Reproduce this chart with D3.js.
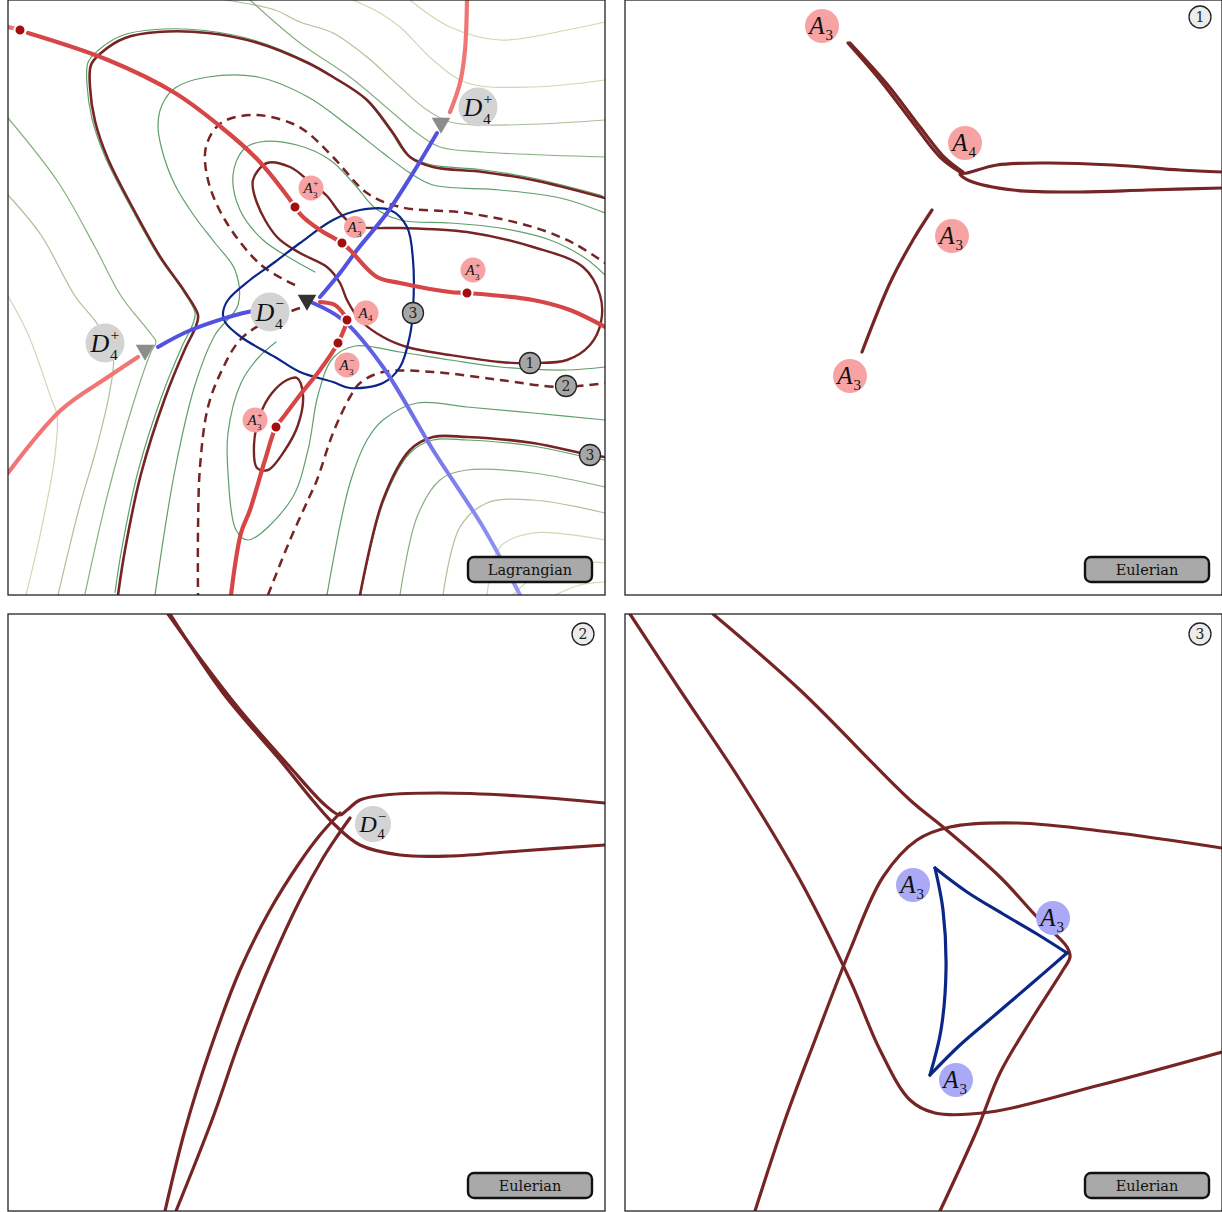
<!DOCTYPE html>
<html>
<head>
<meta charset="utf-8">
<script src="https://cdn.jsdelivr.net/npm/d3@7"></script>
<style>
  body { margin: 0; background: #fff; }
  svg { display: block; }
</style>
</head>
<body>
<svg id="fig" width="1222" height="1212"></svg>
<script>
// ---------- panel 1 (Lagrangian) : curves in panel units (0..5.97) ----------
const outerCaustic = [[1.10,5.95],[1.17,5.50],[1.33,4.74],[1.57,3.98],[1.77,3.49],[1.88,3.26],[1.90,3.15],[1.77,2.92],[1.53,2.58],[1.27,2.12],[1.00,1.59],[0.87,1.21],[0.82,0.87],[0.83,0.65],[0.93,0.53],[1.17,0.38],[1.50,0.32],[2.00,0.33],[2.50,0.43],[3.00,0.63],[3.25,0.77],[3.59,1.00],[3.85,1.33],[4.02,1.57],[4.25,1.67],[4.75,1.72],[5.25,1.80],[5.97,1.98]];
const innerCaustic = [[2.59,1.63],[2.45,1.80],[2.49,2.03],[2.69,2.37],[2.92,2.53],[3.19,2.67],[3.32,2.83],[3.39,3.00],[3.52,3.20],[3.75,3.37],[3.99,3.47],[4.42,3.55],[4.92,3.62],[5.25,3.63],[5.59,3.60],[5.82,3.45],[5.93,3.22],[5.92,2.95],[5.75,2.67],[5.25,2.47],[4.59,2.32],[3.92,2.28],[3.65,2.28],[3.47,2.26],[3.32,2.13],[3.19,1.96],[3.02,1.82],[2.82,1.67]];
const smallCaustic = [[2.89,3.78],[2.95,3.95],[2.90,4.25],[2.77,4.50],[2.60,4.70],[2.49,4.68],[2.46,4.45],[2.52,4.15],[2.64,3.93],[2.79,3.80]];
const lowerCaustic = [[3.52,5.95],[3.75,5.00],[4.02,4.50],[4.25,4.37],[4.59,4.37],[5.25,4.43],[5.82,4.55],[5.97,4.57]];
const dashUpper = [[2.87,2.85],[2.53,2.65],[2.17,2.20],[2.00,1.80],[1.98,1.47],[2.13,1.23],[2.47,1.15],[2.83,1.23],[3.00,1.33],[3.25,1.57],[3.59,1.93],[3.92,2.07],[4.59,2.13],[5.25,2.27],[5.65,2.43],[5.97,2.63]];
const dashLeft = [[2.92,3.08],[2.57,3.22],[2.32,3.40],[2.14,3.70],[2.00,4.07],[1.92,4.67],[1.90,5.30],[1.90,5.95]];
const dashRight = [[2.60,5.95],[2.82,5.40],[3.00,5.00],[3.09,4.80],[3.25,4.33],[3.42,3.97],[3.52,3.83],[3.75,3.72],[4.25,3.72],[4.92,3.80],[5.52,3.87],[5.97,3.83]];

const redUpper = [[0.20,0.33],[1.00,0.60],[1.67,0.93],[2.13,1.27],[2.50,1.60],[2.80,1.97],[2.87,2.07],[2.94,2.16],[3.12,2.30],[3.34,2.43],[3.42,2.50],[3.69,2.77],[3.92,2.83],[4.42,2.92],[4.59,2.93],[5.25,3.00],[5.62,3.10],[5.97,3.27]];
const redLower = [[3.12,3.02],[3.27,3.05],[3.37,3.16],[3.39,3.20],[3.35,3.32],[3.30,3.43],[3.12,3.70],[2.92,3.95],[2.77,4.15],[2.68,4.27],[2.57,4.60],[2.42,5.10],[2.33,5.33],[2.23,5.95]];
const redFaintTop = [[4.42,1.12],[4.52,0.83],[4.57,0.50],[4.59,0.00]];
const redFaintLeft = [[1.30,3.57],[1.00,3.77],[0.53,4.10],[0.00,4.73]];
const redFaintCorner = [[0.00,0.27],[0.10,0.29]];

const blueLeft = [[1.50,3.47],[1.83,3.30],[2.40,3.12],[2.60,3.10]];
const blueUpper = [[3.12,2.97],[3.32,2.73],[3.49,2.50],[3.79,2.13],[4.05,1.73],[4.29,1.33]];
const blueLower = [[3.05,3.03],[3.35,3.20],[3.75,3.67],[4.25,4.50],[4.75,5.27],[5.12,5.95]];

const navyLoop = [[2.15,3.13],[2.20,3.00],[2.42,2.80],[2.67,2.62],[2.92,2.43],[3.25,2.20],[3.52,2.10],[3.82,2.10],[3.99,2.27],[4.05,2.60],[4.05,3.10],[4.02,3.35],[3.92,3.67],[3.75,3.83],[3.42,3.88],[3.25,3.82],[2.92,3.72],[2.67,3.57],[2.33,3.37],[2.17,3.22]];

// contour levels of the potential, grouped by shade (inner -> outer)
const contoursDark = [
  [[1.47,5.95],[1.67,4.70],[1.87,3.85],[2.07,3.35],[2.30,3.05],[2.27,2.70],[2.07,2.43],[1.87,2.17],[1.67,1.85],[1.54,1.50],[1.50,1.25],[1.54,1.05],[1.67,0.88],[2.00,0.77],[2.50,0.77],[3.00,0.97],[3.42,1.27],[3.75,1.53],[4.02,1.73],[4.25,1.85],[4.92,1.90],[5.52,1.98],[5.97,2.13]],
  [[3.07,2.72],[2.82,2.58],[2.55,2.40],[2.32,2.10],[2.25,1.75],[2.35,1.50],[2.52,1.42],[2.89,1.45],[3.22,1.60],[3.47,1.85],[3.67,2.08],[3.92,2.20],[4.42,2.23],[4.92,2.28],[5.42,2.40],[5.77,2.58],[5.97,2.75]],
  [[5.97,3.67],[5.59,3.70],[4.92,3.67],[4.42,3.60],[3.92,3.52],[3.47,3.46],[3.25,3.58],[3.10,3.95],[3.00,4.50],[2.83,5.00],[2.40,5.40],[2.28,5.30],[2.20,4.73],[2.20,4.33],[2.33,3.83],[2.50,3.58],[2.68,3.42]],
  [[3.19,5.95],[3.42,4.83],[3.59,4.40],[3.75,4.20],[4.09,4.03],[4.59,4.07],[5.25,4.13],[5.97,4.20]]
];
const contoursMid = [
  [[0,1.18],[0.50,1.82],[0.87,2.47],[1.13,2.96],[1.43,3.34],[1.48,3.42],[1.43,3.52],[1.27,3.98],[1.00,4.93],[0.77,5.94]],
  [[2.42,0],[2.92,0.43],[3.42,0.77],[3.85,1.13],[4.09,1.33],[4.32,1.47],[4.75,1.52],[5.97,1.57]],
  [[3.92,5.95],[4.09,5.17],[4.32,4.80],[4.59,4.70],[5.25,4.73],[5.97,4.87]]
];
const contoursLight = [
  [[0,1.95],[0.33,2.35],[0.67,2.96],[0.90,3.25],[1.05,3.55],[1.02,3.90],[0.88,4.50],[0.72,5.05],[0.50,5.95]],
  [[2.17,0],[2.67,0.10],[2.92,0.22],[3.25,0.33],[3.59,0.57],[3.92,0.87],[4.19,1.10],[4.42,1.22],[4.75,1.25],[5.32,1.24],[5.97,1.20]],
  [[4.35,5.95],[4.52,5.27],[4.79,5.03],[5.25,5.00],[5.97,5.13]]
];
const contoursPale = [
  [[0,2.96],[0.20,3.34],[0.43,3.98],[0.49,4.15],[0.47,4.55],[0.33,5.31],[0.18,5.95]],
  [[3.45,0],[3.72,0.13],[3.92,0.27],[4.25,0.60],[4.59,0.83],[5.25,0.87],[5.97,0.80]],
  [[4.02,0],[4.42,0.27],[4.92,0.40],[5.59,0.30],[5.97,0.22]],
  [[4.79,5.95],[4.92,5.47],[5.25,5.33],[5.97,5.40]],
  [[5.05,5.95],[5.32,5.72],[5.62,5.62],[5.97,5.63]],
  [[5.47,5.95],[5.72,5.85],[5.97,5.82]]
];

const p1Dots = [[0.12,0.30],[2.87,2.07],[3.34,2.43],[4.59,2.93],[3.39,3.20],[3.30,3.43],[2.68,4.27]];
const p1Triangles = [[4.33,1.25,'#8c8c8c'],[1.37,3.52,'#8c8c8c'],[2.99,3.02,'#333333']];
const p1DLabels = [[4.70,1.07,'+'],[0.97,3.43,'+'],[2.62,3.12,'\u2212']];
const p1ALabels = [[3.03,1.88,'A','3','+'],[3.47,2.27,'A','3','\u2212'],[4.65,2.70,'A','3','+'],[3.58,3.13,'A','4',''],[3.39,3.65,'A','3','\u2212'],[2.47,4.20,'A','3','+']];
const p1Numbers = [[4.05,3.13,'3'],[5.22,3.63,'1'],[5.58,3.86,'2'],[5.82,4.55,'3']];

// ---------- panel 2 (Eulerian, time 1) ----------
const p2Upper = [[2.23,0.43],[2.55,0.80],[2.88,1.23],[3.15,1.57],[3.35,1.72]];
const p2UpperB = [[2.25,0.43],[2.62,0.84],[2.95,1.27],[3.20,1.58],[3.38,1.72]];
const p2Loop = [[5.97,1.72],[5.55,1.70],[4.88,1.65],[4.22,1.63],[3.72,1.65],[3.42,1.73],[3.35,1.74],[3.45,1.81],[3.88,1.90],[4.55,1.92],[5.22,1.90],[5.97,1.88]];
const p2Lower = [[3.07,2.10],[2.88,2.40],[2.65,2.83],[2.37,3.52]];
const p2ALabels = [[1.97,0.26,'A','3',''],[3.40,1.43,'A','4',''],[3.27,2.36,'A','3',''],[2.25,3.76,'A','3','']];

// ---------- panel 3 (Eulerian, time 2) ----------
const p3A = [[1.60,0.00],[1.97,0.51],[2.32,0.96],[2.82,1.53],[3.17,1.91],[3.32,2.01],[3.39,1.96],[3.52,1.86],[3.77,1.81],[4.32,1.79],[5.12,1.82],[5.97,1.89]];
const p3B = [[1.62,0.00],[2.15,0.79],[2.72,1.46],[3.07,1.89],[3.27,2.11],[3.52,2.31],[3.92,2.41],[4.42,2.42],[5.12,2.37],[5.97,2.31]];
const p3C = [[3.32,1.99],[3.12,2.21],[2.92,2.48],[2.62,2.96],[2.32,3.56],[2.02,4.36],[1.77,5.16],[1.57,5.97]];
const p3D = [[3.42,2.04],[3.30,2.21],[3.15,2.44],[2.92,2.86],[2.62,3.51],[2.32,4.26],[2.04,5.06],[1.68,5.97]];
const p3DLabels = [[3.65,2.10,'\u2212']];

// ---------- panel 4 (Eulerian, time 3) ----------
const p4E = [[0.05,0.00],[0.55,0.76],[1.15,1.66],[1.75,2.66],[2.25,3.66],[2.55,4.36],[2.85,4.86],[3.10,4.99],[3.65,4.98],[4.75,4.71],[5.97,4.38]];
const p4F = [[0.88,0.00],[1.75,0.76],[2.85,1.86],[3.18,2.13],[3.75,2.63],[4.12,3.03],[4.42,3.33],[4.45,3.43],[4.38,3.56],[4.08,4.03],[3.75,4.59],[3.52,5.16],[3.15,5.97]];
const p4G = [[1.30,5.97],[1.60,5.06],[1.90,4.26],[2.25,3.36],[2.58,2.63],[2.92,2.26],[3.25,2.13],[3.92,2.09],[4.85,2.18],[5.97,2.34]];
const p4Cusp = [
  [[3.10,2.54],[3.42,2.78],[3.78,3.00],[4.12,3.20],[4.42,3.39]],
  [[4.42,3.39],[4.05,3.71],[3.70,4.01],[3.35,4.31],[3.05,4.61]],
  [[3.05,4.61],[3.16,4.16],[3.21,3.56],[3.18,2.96],[3.10,2.54]]
];
const p4ALabels = [[2.88,2.71,'A','3',''],[4.28,3.04,'A','3',''],[3.31,4.66,'A','3','']];

const panelTags = ['Lagrangian', 'Eulerian', 'Eulerian', 'Eulerian'];
const panelNumbers = [null, '1', '2', '3'];

// ---------- drawing ----------
const svg = d3.select('#fig');
const C = {
  caustic: '#762424', red: '#d64646', redFaint: '#f07676', dot: '#a30f0f',
  blue: '#5252e0', navy: '#0a2787', pink: '#f8a3a3', lilac: '#a9a9f6',
  grey: '#d3d3d3', dark: '#5f9f6b', mid: '#88b07f', light: '#abc197', pale: '#cfd7b3'
};
const serif = "'DejaVu Serif', 'Liberation Serif', serif";
const math = "'Liberation Serif', 'DejaVu Serif', serif";

const panels = [
  { x0: 8, y0: 0, h: 595 },
  { x0: 625, y0: 0, h: 595 },
  { x0: 8, y0: 614, h: 597 },
  { x0: 625, y0: 614, h: 597 }
].map((p, i) => {
  const x = d3.scaleLinear().domain([0, 5.97]).range([p.x0, p.x0 + 597]);
  const y = d3.scaleLinear().domain([0, p.h / 100]).range([p.y0, p.y0 + p.h]);
  svg.append('clipPath').attr('id', 'clip' + i)
    .append('rect').attr('x', p.x0).attr('y', p.y0).attr('width', 597).attr('height', p.h);
  const g = svg.append('g').attr('clip-path', `url(#clip${i})`);
  const line = d3.line().x(d => x(d[0])).y(d => y(d[1])).curve(d3.curveCatmullRom.alpha(0.5));
  const loop = d3.line().x(d => x(d[0])).y(d => y(d[1])).curve(d3.curveCatmullRomClosed.alpha(0.5));
  return { ...p, x, y, g, line, loop, i };
});

function path(P, data, color, width, closed, extra) {
  const s = P.g.append('path').attr('d', closed ? P.loop(data) : P.line(data))
    .attr('fill', 'none').attr('stroke', color).attr('stroke-width', width)
    .attr('stroke-linecap', 'round').attr('stroke-linejoin', 'round');
  if (extra) extra(s);
  return s;
}

// circled math label: italic letter with subscript and optional superscript
function aLabel(P, d, r, size, fill) {
  const cx = P.x(d[0]), cy = P.y(d[1]);
  const g = P.g.append('g');
  g.append('circle').attr('cx', cx).attr('cy', cy).attr('r', r).attr('fill', fill);
  const letter = g.append('text').attr('y', cy + size * 0.33)
    .attr('font-family', math).attr('font-style', 'italic').attr('font-size', size)
    .attr('fill', '#111').text(d[2]);
  const w = letter.node().getComputedTextLength();
  const x0 = cx - (w + size * 0.36) / 2 - size * 0.02;
  letter.attr('x', x0);
  const small = size * 0.6;
  g.append('text').attr('x', x0 + w + size * 0.03).attr('y', cy + size * (d[4] ? 0.64 : 0.56))
    .attr('font-family', math).attr('font-size', small).attr('fill', '#111').text(d[3]);
  if (d[4]) {
    g.append('text').attr('x', x0 + w + size * 0.05).attr('y', cy - size * 0.13)
      .attr('font-family', math).attr('font-size', small).attr('fill', '#111').text(d[4]);
  }
}

function dLabel(P, d, r, size) {
  aLabel(P, [d[0], d[1], 'D', '4', d[2]], r, size, C.grey);
}

function tag(P, text) {
  const g = P.g.append('g');
  const x0 = P.x0 + 460, y0 = P.y0 + P.h - 38;
  g.append('rect').attr('x', x0).attr('y', y0).attr('width', 124).attr('height', 25).attr('rx', 6)
    .attr('fill', '#a9a9a9').attr('stroke', '#111').attr('stroke-width', 2.4);
  g.append('text').attr('x', x0 + 62).attr('y', y0 + 17.5).attr('text-anchor', 'middle')
    .attr('font-family', serif).attr('font-size', 14.5).attr('fill', '#111').text(text);
}

function circledNumber(P, d, r, fill, size) {
  const cx = P.x(d[0]), cy = P.y(d[1]);
  P.g.append('circle').attr('cx', cx).attr('cy', cy).attr('r', r)
    .attr('fill', fill).attr('stroke', '#222').attr('stroke-width', 1.3);
  P.g.append('text').attr('x', cx).attr('y', cy + size * 0.36).attr('text-anchor', 'middle')
    .attr('font-family', serif).attr('font-size', size).attr('fill', '#222').text(d[2]);
}

// ----- panel 1 -----
const P1 = panels[0];
contoursPale.forEach(c => path(P1, c, C.pale, 1.2));
contoursLight.forEach(c => path(P1, c, C.light, 1.2));
contoursMid.forEach(c => path(P1, c, C.mid, 1.2));
contoursDark.forEach(c => path(P1, c, C.dark, 1.2));
// green level lines that run right beside two caustic branches
path(P1, outerCaustic, C.dark, 1.2, false, s => s.attr('transform', 'translate(-3,-2.5)'));
path(P1, lowerCaustic, C.dark, 1.2, false, s => s.attr('transform', 'translate(0,3)'));

path(P1, outerCaustic, C.caustic, 2.6);
path(P1, innerCaustic, C.caustic, 2.4, true);
path(P1, smallCaustic, C.caustic, 2.4, true);
path(P1, lowerCaustic, C.caustic, 2.6);
[dashUpper, dashLeft, dashRight].forEach(c => path(P1, c, C.caustic, 2.5, false, s => s.attr('stroke-dasharray', '9,6').attr('stroke-linecap', 'butt')));

path(P1, navyLoop, C.navy, 2.2, true);

const grad = svg.append('defs').append('linearGradient').attr('id', 'blueFade')
  .attr('gradientUnits', 'userSpaceOnUse')
  .attr('x1', P1.x(blueLower[0][0])).attr('y1', P1.y(blueLower[0][1]))
  .attr('x2', P1.x(blueLower[blueLower.length - 1][0])).attr('y2', P1.y(blueLower[blueLower.length - 1][1]));
grad.append('stop').attr('offset', 0).attr('stop-color', C.blue);
grad.append('stop').attr('offset', 1).attr('stop-color', '#9a9af4');
path(P1, blueLeft, C.blue, 4);
path(P1, blueUpper, C.blue, 4);
path(P1, blueLower, 'url(#blueFade)', 4);

path(P1, redFaintTop, C.redFaint, 4.2);
path(P1, redFaintLeft, C.redFaint, 4.2);
path(P1, redFaintCorner, C.redFaint, 4.2);
path(P1, redUpper, C.red, 4.2);
path(P1, redLower, C.red, 4.2);

p1Dots.forEach(d => P1.g.append('circle').attr('cx', P1.x(d[0])).attr('cy', P1.y(d[1])).attr('r', 5.5)
  .attr('fill', C.dot).attr('stroke', '#fff').attr('stroke-width', 2));

p1ALabels.forEach(d => aLabel(P1, d, d[4] === '\u2212' && d[1] < 2.5 ? 11 : 12.5, 15, C.pink));
p1DLabels.forEach(d => dLabel(P1, d, 19.5, 26));
p1Triangles.forEach(d => P1.g.append('path')
  .attr('d', d3.symbol(d3.symbolTriangle, 150)())
  .attr('transform', `translate(${P1.x(d[0])},${P1.y(d[1]) - 2}) rotate(180)`)
  .attr('fill', d[2]));
p1Numbers.forEach(d => circledNumber(P1, d, 10.5, '#a6a6a6', 14));

// ----- panel 2 -----
const P2 = panels[1];
path(P2, p2Upper, C.caustic, 3.2);
path(P2, p2UpperB, C.caustic, 3.2);
path(P2, p2Loop, C.caustic, 3.2);
path(P2, p2Lower, C.caustic, 3.2);
p2ALabels.forEach(d => aLabel(P2, d, 17, 25, C.pink));

// ----- panel 3 -----
const P3 = panels[2];
[p3A, p3B, p3C, p3D].forEach(c => path(P3, c, C.caustic, 3.2));
p3DLabels.forEach(d => dLabel(P3, d, 18, 24));

// ----- panel 4 -----
const P4 = panels[3];
[p4E, p4F, p4G].forEach(c => path(P4, c, C.caustic, 3.2));
p4Cusp.forEach(c => path(P4, c, C.navy, 3.2));
p4ALabels.forEach(d => aLabel(P4, d, 17, 25, C.lilac));

// frames, tags and panel numbers
panels.forEach((P, i) => {
  svg.append('rect').attr('x', P.x0).attr('y', P.y0).attr('width', 597).attr('height', P.h)
    .attr('fill', 'none').attr('stroke', '#222').attr('stroke-width', 1.3);
  tag(P, panelTags[i]);
  if (panelNumbers[i]) circledNumber(P, [5.75, i === 1 ? 0.17 : 0.20, panelNumbers[i]], 11, '#ececec', 14);
});
</script>
</body>
</html>
